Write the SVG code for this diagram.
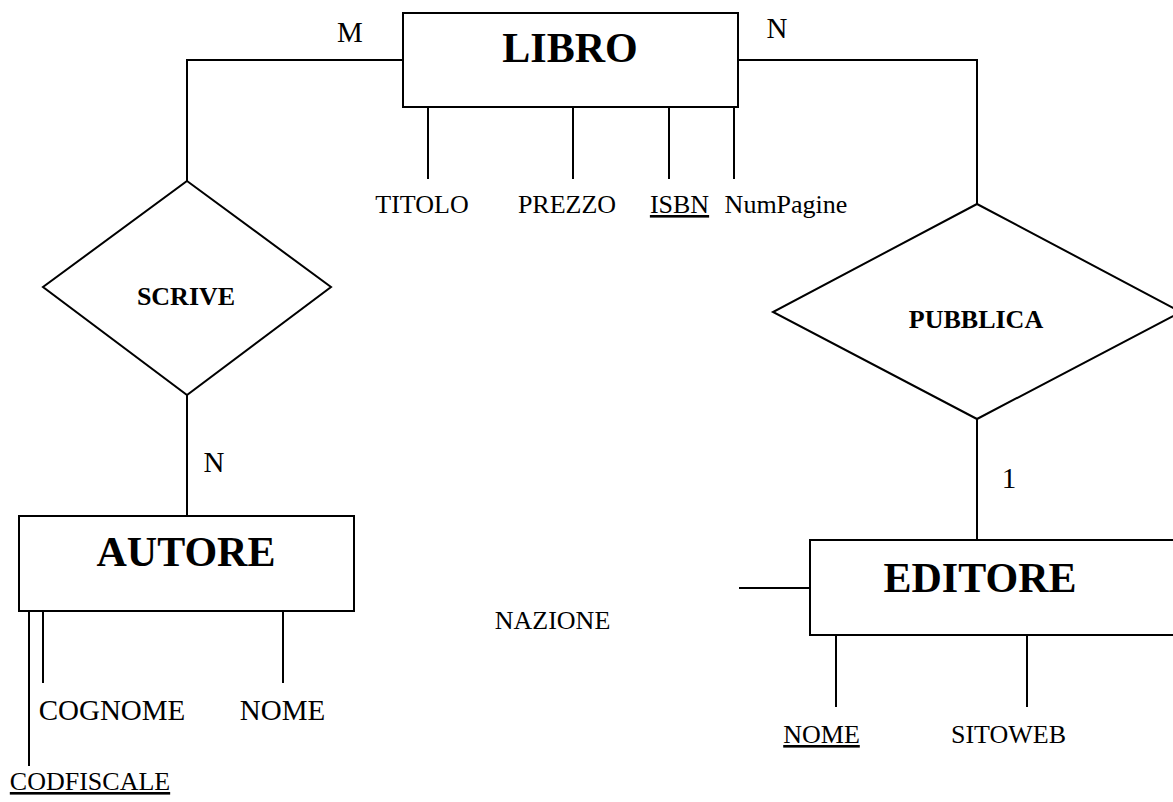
<svg xmlns="http://www.w3.org/2000/svg" width="1173" height="802" viewBox="0 0 1173 802">
<style>
.shape{fill:#fff;stroke:#000;stroke-width:2}
.ln{fill:none;stroke:#000;stroke-width:2}
text{font-family:"Liberation Serif","Times New Roman",serif;fill:#000;text-anchor:middle}
.ent{font-size:42px;font-weight:bold}
.rel{font-size:26px;font-weight:bold}
.attr{font-size:26px}
.big{font-size:29px}
.key{text-decoration:underline}
</style>
<rect width="1173" height="802" fill="#fff"/>
<g id="connectors">
<polyline class="ln" points="403,60 187,60 187,181"/>
<polyline class="ln" points="738,60 977,60 977,204"/>
<line class="ln" x1="187" y1="395" x2="187" y2="516"/>
<line class="ln" x1="977" y1="419" x2="977" y2="540"/>
<line class="ln" x1="428" y1="107" x2="428" y2="179"/>
<line class="ln" x1="573" y1="107" x2="573" y2="179"/>
<line class="ln" x1="669" y1="107" x2="669" y2="179"/>
<line class="ln" x1="734" y1="107" x2="734" y2="179"/>
<line class="ln" x1="29" y1="611" x2="29" y2="766"/>
<line class="ln" x1="43" y1="611" x2="43" y2="683"/>
<line class="ln" x1="283" y1="611" x2="283" y2="683"/>
<line class="ln" x1="739" y1="588" x2="810" y2="588"/>
<line class="ln" x1="836" y1="635" x2="836" y2="707"/>
<line class="ln" x1="1027" y1="635" x2="1027" y2="707"/>
<text class="big" x="350" y="42">M</text>
<text class="big" x="777" y="38">N</text>
<text class="big" x="214" y="472">N</text>
<text class="big" x="1009" y="488">1</text>
</g>
<g id="libro">
<rect class="shape" x="403" y="13" width="335" height="94"/>
<text class="ent" x="570" y="62">LIBRO</text>
<text class="attr" x="422" y="213">TITOLO</text>
<text class="attr" x="567" y="213">PREZZO</text>
<text class="attr key" x="679.5" y="213">ISBN</text>
<text class="attr" x="786" y="213">NumPagine</text>
</g>
<g id="scrive">
<polygon class="shape" points="187,181 331,287 187,395 43,287"/>
<text class="rel" x="186" y="305">SCRIVE</text>
</g>
<g id="pubblica">
<polygon class="shape" points="977,204 1181,312 977,419 773,312"/>
<text class="rel" x="976" y="328">PUBBLICA</text>
</g>
<g id="autore">
<rect class="shape" x="19" y="516" width="335" height="95"/>
<text class="ent" x="186" y="566">AUTORE</text>
<text class="big" x="112" y="720">COGNOME</text>
<text class="big" x="282.5" y="720">NOME</text>
<text class="attr key" x="90" y="790">CODFISCALE</text>
</g>
<g id="editore">
<rect class="shape" x="810" y="540" width="380" height="95"/>
<text class="ent" x="980" y="592">EDITORE</text>
<text class="attr key" x="821.5" y="743">NOME</text>
<text class="attr" x="1008.5" y="743">SITOWEB</text>
</g>
<g id="nazione">
<text class="attr" x="552.5" y="629">NAZIONE</text>
</g>
</svg>
